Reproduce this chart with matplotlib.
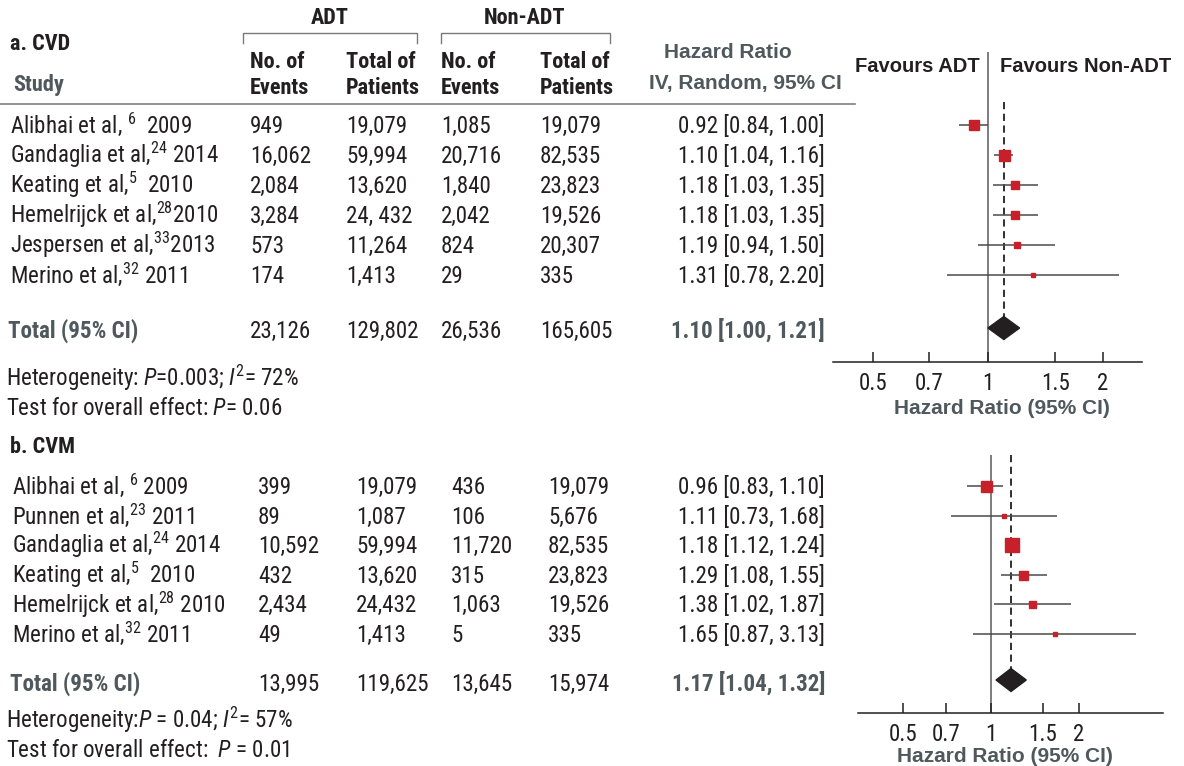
import matplotlib
matplotlib.use("Agg")
import matplotlib.pyplot as plt
from matplotlib import font_manager

# narrow sans for the table body, regular-width sans for headings
available = {f.name for f in font_manager.fontManager.ttflist}
NARROW = next(n for n in ['Roboto Condensed', 'Archivo Narrow', 'PT Sans Narrow', 'Liberation Sans']
              if n in available)
WIDE = ['Liberation Sans', 'DejaVu Sans']

plt.rcParams['font.family'] = [NARROW, 'Liberation Sans', 'DejaVu Sans']
plt.rcParams['mathtext.fontset'] = 'custom'
plt.rcParams['mathtext.rm'] = NARROW
plt.rcParams['mathtext.it'] = NARROW + ':italic'
plt.rcParams['mathtext.bf'] = NARROW + ':bold'

W, H = 1184, 766
INK = '#231f20'
GREY = '#4f585c'
RED = '#c8202a'
FS = 16.6

# a. CVD
study_a = ["Alibhai et al, $^{6}$  2009", "Gandaglia et al,$^{24}$ 2014", "Keating et al,$^{5}$  2010",
           "Hemelrijck et al,$^{28}$2010", "Jespersen et al,$^{33}$2013", "Merino et al,$^{32}$ 2011"]
events_adt_a = ["949", "16,062", "2,084", "3,284", "573", "174"]
total_adt_a = ["19,079", "59,994", "13,620", "24, 432", "11,264", "1,413"]
events_non_a = ["1,085", "20,716", "1,840", "2,042", "824", "29"]
total_non_a = ["19,079", "82,535", "23,823", "19,526", "20,307", "335"]
hr_a = [0.92, 1.10, 1.18, 1.18, 1.19, 1.31]
lo_a = [0.84, 1.04, 1.03, 1.03, 0.94, 0.78]
hi_a = [1.00, 1.16, 1.35, 1.35, 1.50, 2.20]
box_a = [10, 11, 8, 8, 6, 4]
totals_a = ["23,126", "129,802", "26,536", "165,605"]
pooled_a = [1.10, 1.00, 1.21]
het_a = "Heterogeneity: $P$=0.003; $I^{2}$= 72%"
overall_a = "Test for overall effect: $P$= 0.06"

# b. CVM
study_b = ["Alibhai et al, $^{6}$ 2009", "Punnen et al,$^{23}$ 2011", "Gandaglia et al,$^{24}$ 2014",
           "Keating et al,$^{5}$  2010", "Hemelrijck et al,$^{28}$ 2010", "Merino et al,$^{32}$ 2011"]
events_adt_b = ["399", "89", "10,592", "432", "2,434", "49"]
total_adt_b = ["19,079", "1,087", "59,994", "13,620", "24,432", "1,413"]
events_non_b = ["436", "106", "11,720", "315", "1,063", "5"]
total_non_b = ["19,079", "5,676", "82,535", "23,823", "19,526", "335"]
hr_b = [0.96, 1.11, 1.18, 1.29, 1.38, 1.65]
lo_b = [0.83, 0.73, 1.12, 1.08, 1.02, 0.87]
hi_b = [1.10, 1.68, 1.24, 1.55, 1.87, 3.13]
box_b = [11, 5, 14, 9, 7, 4]
totals_b = ["13,995", "119,625", "13,645", "15,974"]
pooled_b = [1.17, 1.04, 1.32]
het_b = "Heterogeneity:$P$ = 0.04; $I^{2}$= 57%"
overall_b = "Test for overall effect:  $P$ = 0.01"

ticks = [0.5, 0.7, 1, 1.5, 2]
tick_labels = ["0.5", "0.7", "1", "1.5", "2"]


def ci_text(h, l, u):
    return f"{h:.2f} [{l:.2f}, {u:.2f}]"


def table(ax, rows_y, total_y, study_x, col_x, study, cols, totals, hr, lo, hi, pooled,
          het, overall, het_y):
    for i, y in enumerate(rows_y):
        ax.text(study_x, y + 8, study[i], fontsize=FS, color=INK, va='baseline')
        for x, col in zip(col_x, cols):
            ax.text(x, y + 8, col[i], fontsize=FS, color=INK, va='baseline')
        ax.text(825, y + 8, ci_text(hr[i], lo[i], hi[i]), fontsize=FS, color=INK,
                va='baseline', ha='right')
    ax.text(study_x - 2, total_y + 8, "Total (95% CI)", fontsize=FS, color=GREY,
            fontweight='bold', va='baseline')
    for x, t in zip(col_x, totals):
        ax.text(x, total_y + 8, t, fontsize=FS, color=INK, va='baseline')
    ax.text(825, total_y + 8, ci_text(*pooled), fontsize=FS, color=GREY,
            fontweight='bold', va='baseline', ha='right')
    ax.text(6, het_y + 8, het, fontsize=FS, color=INK, va='baseline')
    ax.text(6, het_y + 37, overall, fontsize=FS, color=INK, va='baseline')


def forest(fig, x0, x1, y0, y1, xlim, rows_y, total_y, hr, lo, hi, box, pooled, dash):
    ax = fig.add_axes([x0 / W, 1 - y1 / H, (x1 - x0) / W, (y1 - y0) / H])
    ax.patch.set_visible(False)
    ax.set_xscale('log')
    ax.set_xlim(*xlim)
    ax.set_ylim(y1, y0)
    for s in ['top', 'left', 'right']:
        ax.spines[s].set_visible(False)
    ax.spines['bottom'].set_color(INK)
    ax.spines['bottom'].set_linewidth(1.1)
    ax.minorticks_off()
    ax.set_xticks(ticks)
    ax.set_xticklabels(tick_labels)
    ax.set_yticks([])
    ax.tick_params(axis='x', direction='in', length=7, width=1.1, color=INK,
                   labelsize=16.5, labelcolor=INK, pad=7)

    ax.axvline(1, color='#5a5a5a', lw=1.1, zorder=1)
    ax.vlines(pooled[0], dash[0], dash[1], colors=INK, lw=1.3,
              linestyles=(0, (4, 2.5)), zorder=2)
    for i, y in enumerate(rows_y):
        ax.hlines(y, lo[i], hi[i], colors='#4a4a4a', lw=1.1, zorder=3)
        ax.plot(hr[i], y, marker='s', ms=box[i] * 0.72, color=RED, mec=RED, zorder=4)
    est, l, u = pooled
    ax.fill([l, est, u, est], [total_y, total_y - 11.5, total_y, total_y + 11.5],
            color=INK, zorder=5)
    return ax


fig = plt.figure(figsize=(W / 100, H / 100), dpi=100)
ax = fig.add_axes([0, 0, 1, 1])
ax.set_xlim(0, W)
ax.set_ylim(H, 0)
ax.axis('off')

# column headings
ax.text(330, 18, "ADT", fontsize=16, fontweight='bold', color=INK, ha='center', va='center')
ax.text(525, 18, "Non-ADT", fontsize=16, fontweight='bold', color=INK, ha='center', va='center')
for a, b in [(243, 417), (441, 610)]:
    ax.plot([a, a, b, b], [43, 33, 33, 43], color='#7a7a7a', lw=1.0)
ax.text(10, 44, "a. CVD", fontsize=16, fontweight='bold', color=INK, va='center')
ax.text(13, 85, "Study", fontsize=16, fontweight='bold', color=GREY, va='center')
for x, top, bottom in [(250, "No. of", "Events"), (346, "Total of", "Patients"),
                       (441, "No. of", "Events"), (540, "Total of", "Patients")]:
    ax.text(x, 62, top, fontsize=16, fontweight='bold', color=INK, va='center')
    ax.text(x, 88, bottom, fontsize=16, fontweight='bold', color=INK, va='center')
ax.text(728, 52, "Hazard Ratio", fontsize=15, fontweight='bold', color=GREY,
        ha='center', va='center', family=WIDE)
ax.text(745, 83, "IV, Random, 95% CI", fontsize=15, fontweight='bold', color=GREY,
        ha='center', va='center', family=WIDE)
ax.plot([0, 855], [104, 104], color='#808080', lw=1.2)
ax.text(980, 66, "Favours ADT", fontsize=14.5, fontweight='bold', color=INK,
        ha='right', va='center', family=WIDE)
ax.text(1000, 66, "Favours Non-ADT", fontsize=14.5, fontweight='bold', color=INK,
        ha='left', va='center', family=WIDE)

rows_a = [125 + 30 * i for i in range(6)]
rows_b = [486 + 29.6 * i for i in range(6)]

table(ax, rows_a, 330, 10, [250, 346, 441, 540], study_a,
      [events_adt_a, total_adt_a, events_non_a, total_non_a], totals_a,
      hr_a, lo_a, hi_a, pooled_a, het_a, overall_a, 378)

ax.text(10, 447, "b. CVM", fontsize=16, fontweight='bold', color=INK, va='center')
table(ax, rows_b, 683, 12, [258, 356, 451, 548], study_b,
      [events_adt_b, total_adt_b, events_non_b, total_non_b], totals_b,
      hr_b, lo_b, hi_b, pooled_b, het_b, overall_b, 720)

forest(fig, 833, 1142, 52, 362, (0.393, 2.53), rows_a, 328,
       hr_a, lo_a, hi_a, box_a, pooled_a, (102, 340))
forest(fig, 858, 1163, 455, 713, (0.351, 3.87), rows_b, 680,
       hr_b, lo_b, hi_b, box_b, pooled_b, (455, 690))

ax.text(1002, 408, "Hazard Ratio (95% CI)", fontsize=15, fontweight='bold', color=GREY,
        ha='center', va='center', family=WIDE)
ax.text(1005, 757, "Hazard Ratio (95% CI)", fontsize=15, fontweight='bold', color=GREY,
        ha='center', va='center', family=WIDE)

fig.savefig("out.png", dpi=100)
